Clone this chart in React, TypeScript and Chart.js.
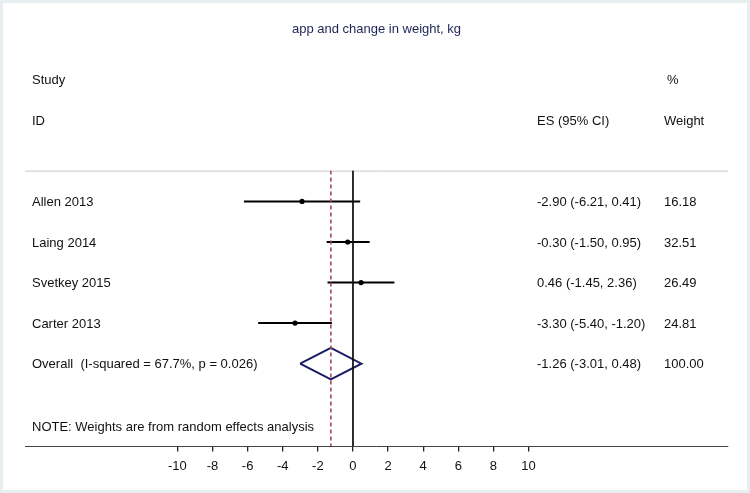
import React, { useEffect, useRef } from "react";
import { Chart, registerables } from "chart.js";

Chart.register(...registerables);

const titleText = "app and change in weight, kg";
const studies = ["Allen 2013", "Laing 2014", "Svetkey 2015", "Carter 2013"];
const esValues = [-2.9, -0.3, 0.46, -3.3];
const ciLow = [-6.21, -1.5, -1.45, -5.4];
const ciHigh = [0.41, 0.95, 2.36, -1.2];
const weights = [16.18, 32.51, 26.49, 24.81];
const overallLabel = "Overall  (I-squared = 67.7%, p = 0.026)";
const overallES = -1.26;
const overallLow = -3.01;
const overallHigh = 0.48;
const overallWeight = 100.0;
const noteText = "NOTE: Weights are from random effects analysis";
const xTicks = [-10, -8, -6, -4, -2, 0, 2, 4, 6, 8, 10];

const FONT = "'Liberation Sans', Arial, sans-serif";
const X_MIN = -18.68;
const X_MAX = 21.36;
const Y_MIN = 0.24;
const Y_MAX = 7.04;

export default function App() {
  const ref = useRef<HTMLCanvasElement | null>(null);

  useEffect(() => {
    const canvas = ref.current;
    if (!canvas) return;

    const rows = studies.map((_, i) => i + 1);
    const overallRow = studies.length + 1;

    const ciData: any[] = [];
    studies.forEach((_, i) => {
      ciData.push({ x: ciLow[i], y: rows[i] });
      ciData.push({ x: ciHigh[i], y: rows[i] });
      ciData.push({ x: NaN, y: NaN });
    });

    const diamondHalf = 0.39;
    const diamond = [
      { x: overallLow, y: overallRow },
      { x: overallES, y: overallRow - diamondHalf },
      { x: overallHigh, y: overallRow },
      { x: overallES, y: overallRow + diamondHalf },
      { x: overallLow, y: overallRow },
    ];

    const fmt = (v: number) => v.toFixed(2);

    const framePlugin = {
      id: "frame",
      beforeDraw(chart: any) {
        const { ctx, width, height } = chart;
        ctx.save();
        ctx.fillStyle = "#ffffff";
        ctx.fillRect(0, 0, width, height);
        ctx.strokeStyle = "#e8eff1";
        ctx.lineWidth = 3;
        ctx.strokeRect(1.5, 1.5, width - 3, height - 3);
        ctx.restore();
      },
    };

    const textPlugin = {
      id: "forestText",
      beforeDatasetsDraw(chart: any) {
        const { ctx, chartArea } = chart;
        ctx.save();
        ctx.strokeStyle = "#c8c8c8";
        ctx.lineWidth = 1;
        ctx.beginPath();
        ctx.moveTo(chartArea.left, chartArea.top + 0.5);
        ctx.lineTo(chartArea.right, chartArea.top + 0.5);
        ctx.stroke();
        ctx.restore();
      },
      afterDatasetsDraw(chart: any) {
        const { ctx } = chart;
        const ys = chart.scales.y;
        const xLabel = 32;
        const xES = 537;
        const xW = 664;
        ctx.save();
        ctx.font = `13px ${FONT}`;
        ctx.fillStyle = "#111111";
        ctx.textBaseline = "middle";
        ctx.textAlign = "left";
        const py = (v: number) => ys.getPixelForValue(v) + 1;
        ctx.fillText("Study", xLabel, py(-2));
        ctx.fillText("%", xW + 3, py(-2));
        ctx.fillText("ID", xLabel, py(-1));
        ctx.fillText("ES (95% CI)", xES, py(-1));
        ctx.fillText("Weight", xW, py(-1));
        studies.forEach((s, i) => {
          const y = py(rows[i]);
          ctx.fillText(s, xLabel, y);
          ctx.fillText(`${fmt(esValues[i])} (${fmt(ciLow[i])}, ${fmt(ciHigh[i])})`, xES, y);
          ctx.fillText(fmt(weights[i]), xW, y);
        });
        const yo = py(overallRow);
        ctx.fillText(overallLabel, xLabel, yo);
        ctx.fillText(`${fmt(overallES)} (${fmt(overallLow)}, ${fmt(overallHigh)})`, xES, yo);
        ctx.fillText(fmt(overallWeight), xW, yo);
        ctx.fillText(noteText, xLabel, py(overallRow + 1.55));
        ctx.restore();
      },
    };

    const chart = new Chart(canvas, {
      type: "scatter",
      data: {
        datasets: [
          {
            label: "null line",
            data: [
              { x: 0, y: Y_MIN },
              { x: 0, y: Y_MAX },
            ],
            showLine: true,
            borderColor: "#111111",
            borderWidth: 1,
            pointRadius: 0,
          },
          {
            label: "overall line",
            data: [
              { x: overallES, y: Y_MIN },
              { x: overallES, y: Y_MAX },
            ],
            showLine: true,
            borderColor: "#9c4c62",
            borderWidth: 1.6,
            borderDash: [4, 3],
            pointRadius: 0,
          },
          {
            label: "CI",
            data: ciData,
            showLine: true,
            spanGaps: false,
            borderColor: "#000000",
            borderWidth: 2,
            pointRadius: 0,
          },
          {
            label: "ES",
            data: esValues.map((v, i) => ({ x: v, y: rows[i] })),
            showLine: false,
            pointRadius: 2.6,
            pointBackgroundColor: "#000000",
            pointBorderColor: "#000000",
            pointBorderWidth: 0,
          },
          {
            label: "Overall",
            data: diamond,
            showLine: true,
            borderColor: "#1c1c64",
            borderWidth: 2,
            pointRadius: 0,
            tension: 0,
          },
        ],
      },
      options: {
        animation: false,
        responsive: false,
        maintainAspectRatio: false,
        layout: { padding: { left: 25, right: 22, top: 0, bottom: 12 } },
        plugins: {
          legend: { display: false },
          tooltip: { enabled: false },
          title: {
            display: true,
            text: titleText,
            color: "#1c2456",
            font: { family: FONT, size: 13, weight: "normal" },
            padding: { top: 22, bottom: 133 },
          },
        },
        scales: {
          x: {
            type: "linear",
            min: X_MIN,
            max: X_MAX,
            afterBuildTicks(scale: any) {
              scale.ticks = xTicks.map((v) => ({ value: v }));
            },
            grid: {
              display: true,
              drawOnChartArea: false,
              drawTicks: true,
              tickLength: 5,
              color: "#222222",
              lineWidth: 1.3,
            },
            border: { display: true, color: "#444444", width: 1 },
            ticks: {
              autoSkip: false,
              maxRotation: 0,
              padding: 7,
              color: "#111111",
              font: { family: FONT, size: 13 },
              callback: (v: any) => String(v),
            },
          },
          y: {
            type: "linear",
            display: false,
            reverse: true,
            min: Y_MIN,
            max: Y_MAX,
          },
        },
      },
      plugins: [framePlugin, textPlugin],
    } as any);

    return () => chart.destroy();
  }, []);

  return (
    <div style={{ position: "absolute", left: 0, top: 0, width: 750, height: 493 }}>
      <canvas ref={ref} width={750} height={493} style={{ display: "block", width: 750, height: 493 }} />
    </div>
  );
}
